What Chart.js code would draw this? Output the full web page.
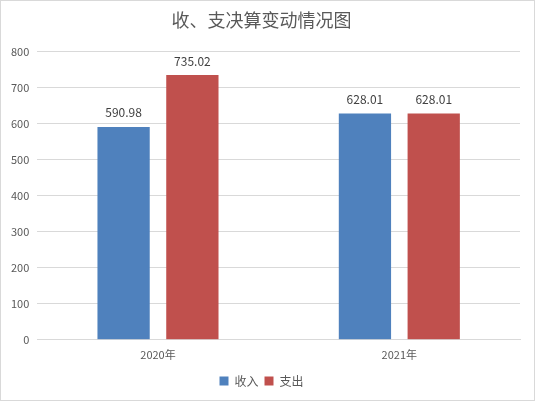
<!DOCTYPE html>
<html>
<head>
<meta charset="utf-8">
<script src="https://cdn.jsdelivr.net/npm/chart.js@4"></script>
<style>
  html, body { margin: 0; padding: 0; background: #fff; }
  .box { width: 533px; height: 399px; border: 1px solid #d9d9d9; position: relative; }
</style>
</head>
<body>
<div class="box"><canvas id="myChart" width="533" height="399"></canvas></div>
<script>
const categories = ['2020年', '2021年'];
const income = [590.98, 628.01];
const spending = [735.02, 628.01];
const series_names = ['收入', '支出'];

const FONT = '"Microsoft YaHei", "Noto Sans CJK SC", sans-serif';

// draws the value above each bar
const valueLabels = {
  id: 'valueLabels',
  afterDatasetsDraw(chart) {
    const ctx = chart.ctx;
    ctx.save();
    ctx.font = '12px ' + FONT;
    ctx.fillStyle = '#404040';
    ctx.textAlign = 'center';
    ctx.textBaseline = 'bottom';
    chart.data.datasets.forEach((ds, i) => {
      chart.getDatasetMeta(i).data.forEach((bar, j) => {
        ctx.fillText(ds.data[j].toFixed(2), bar.x, bar.y - 8);
      });
    });
    ctx.restore();
  },
};

const ctx = document.getElementById('myChart').getContext('2d');

new Chart(ctx, {
  type: 'bar',
  data: {
    labels: categories,
    datasets: [
      {
        label: series_names[0],
        data: income,
        backgroundColor: '#4F81BD',
        categoryPercentage: 0.57,
        barPercentage: 0.76,
      },
      {
        label: series_names[1],
        data: spending,
        backgroundColor: '#C0504D',
        categoryPercentage: 0.57,
        barPercentage: 0.76,
      },
    ],
  },
  options: {
    responsive: false,
    animation: false,
    layout: { padding: { left: 2, right: 14, top: 4, bottom: 3 } },
    scales: {
      x: {
        grid: { display: false, drawTicks: false },
        border: { color: '#d9d9d9' },
        ticks: { color: '#595959', font: { size: 11, family: FONT }, padding: 8 },
      },
      y: {
        min: 0,
        max: 800,
        ticks: { stepSize: 100, color: '#595959', font: { size: 11, family: FONT }, padding: 8 },
        grid: { color: '#d9d9d9', drawTicks: false },
        border: { display: false },
      },
    },
    plugins: {
      title: {
        display: true,
        text: '收、支决算变动情况图',
        color: '#595959',
        font: { size: 18, family: FONT, weight: 'normal' },
        padding: { top: 4, bottom: 21 },
      },
      legend: {
        position: 'bottom',
        labels: {
          color: '#595959',
          font: { size: 12, family: FONT },
          boxWidth: 9,
          boxHeight: 9,
          padding: 6,
        },
      },
      tooltip: { enabled: false },
    },
  },
  plugins: [valueLabels],
});
</script>
</body>
</html>
